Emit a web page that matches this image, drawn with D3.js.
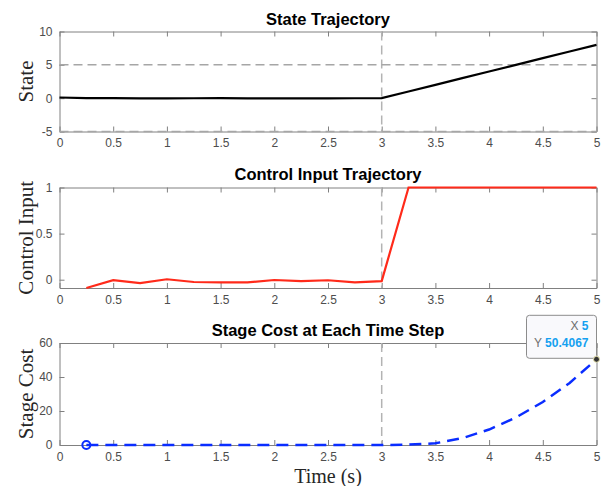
<!DOCTYPE html>
<html lang="en">
<head>
<meta charset="UTF-8">
<title>State / Control / Stage Cost</title>
<script src="https://d3js.org/d3.v7.min.js"></script>
<style>
    body { margin: 0; background: white; }
    svg { display: block; }
    .tick text { font-family: "Liberation Sans", Arial, sans-serif; font-size: 12px; fill: #4d4d4d; }
    .title { font-family: "Liberation Sans", Arial, sans-serif; font-size: 16.5px; font-weight: bold; fill: #000; }
    .ylab { font-family: "Liberation Serif", "Times New Roman", serif; font-size: 21px; fill: #262626; }
</style>
</head>
<body>
<svg width="606" height="486"></svg>
<script>
// data
const tState = [0, 0.25, 0.5, 0.75, 1, 1.25, 1.5, 1.75, 2, 2.25, 2.5, 2.75, 3, 3.25, 3.5, 3.75, 4, 4.25, 4.5, 4.75, 5];
const state  = [0.1, 0.0, 0.02, -0.03, -0.02, -0.01, 0.0, -0.03, -0.04, -0.03, -0.02, -0.01, 0.0, 1, 2, 3, 4, 5, 6, 7, 8];
const tCtrl  = [0.25, 0.5, 0.75, 1, 1.25, 1.5, 1.75, 2, 2.25, 2.5, 2.75, 3, 3.25, 3.5, 3.75, 4, 4.25, 4.5, 4.75, 5];
const control = [-0.09, -0.005, -0.036, 0.005, -0.025, -0.028, -0.03, -0.003, -0.015, -0.006, -0.028, -0.015, 1, 1, 1, 1, 1, 1, 1, 1];
const cost   = [0, 0, 0, 0, 0, 0, 0, 0, 0, 0, 0, 0, 0.2, 1.0, 4.0, 9.1, 16.2, 25.3, 36.5, 50.4067];
const xTicks = [0, 0.5, 1, 1.5, 2, 2.5, 3, 3.5, 4, 4.5, 5];
const switchTime = 3;
const stateLimits = [5, -5];

const svg = d3.select("svg");
const x = d3.scaleLinear().domain([0, 5]).range([59.5, 596.5]);
const fmt = d => String(d);

const panels = [
    { title: "State Trajectory", ylabel: "State", top: 31.5, bottom: 131.5, domain: [-5, 10], yTicks: [-5, 0, 5, 10], titleY: 25 },
    { title: "Control Input Trajectory", ylabel: "Control Input", top: 187.5, bottom: 288, domain: [-0.09, 1], yTicks: [0, 0.5, 1], titleY: 180 },
    { title: "Stage Cost at Each Time Step", ylabel: "Stage Cost", top: 343, bottom: 445, domain: [0, 60], yTicks: [0, 20, 40, 60], titleY: 336 }
];

const axisColor = "#808080";

panels.forEach(p => {
    p.y = d3.scaleLinear().domain(p.domain).range([p.bottom, p.top]);
    const g = svg.append("g");

    const styleAxis = sel => {
        sel.select(".domain").attr("stroke", axisColor);
        sel.selectAll(".tick line").attr("stroke", axisColor);
    };
    g.append("g").attr("transform", `translate(0,${p.bottom})`)
        .call(d3.axisBottom(x).tickValues(xTicks).tickFormat(fmt).tickSize(-5).tickSizeOuter(0).tickPadding(7))
        .call(styleAxis);
    g.append("g").attr("transform", `translate(0,${p.top})`)
        .call(d3.axisTop(x).tickValues(xTicks).tickFormat("").tickSize(-5).tickSizeOuter(0))
        .call(styleAxis);
    g.append("g").attr("transform", `translate(${x(0)},0)`)
        .call(d3.axisLeft(p.y).tickValues(p.yTicks).tickFormat(fmt).tickSize(-5).tickSizeOuter(0).tickPadding(7))
        .call(styleAxis);
    g.append("g").attr("transform", `translate(${x(5)},0)`)
        .call(d3.axisRight(p.y).tickValues(p.yTicks).tickFormat("").tickSize(-5).tickSizeOuter(0))
        .call(styleAxis);
    g.selectAll(".tick text").attr("fill", "#4d4d4d");

    g.append("text").attr("class", "title")
        .attr("x", (x(0) + x(5)) / 2).attr("y", p.titleY)
        .attr("text-anchor", "middle").text(p.title);
    g.append("text").attr("class", "ylab")
        .attr("transform", `translate(33,${(p.top + p.bottom) / 2}) rotate(-90)`)
        .attr("text-anchor", "middle").text(p.ylabel);

    // vertical dashed line at switch time
    g.append("line")
        .attr("x1", x(switchTime)).attr("x2", x(switchTime))
        .attr("y1", p.top).attr("y2", p.bottom)
        .attr("stroke", "#b3b3b3").attr("stroke-width", 1.5)
        .attr("stroke-dasharray", "9,5");
    p.g = g;
});

svg.append("text").attr("class", "ylab")
    .attr("x", (x(0) + x(5)) / 2).attr("y", 483)
    .style("font-size", "20px")
    .attr("text-anchor", "middle").text("Time (s)");

// state limits
const p1 = panels[0];
stateLimits.forEach(v => {
    p1.g.append("line")
        .attr("x1", x(0)).attr("x2", x(5))
        .attr("y1", p1.y(v)).attr("y2", p1.y(v))
        .attr("stroke", "#a6a6a6").attr("stroke-width", 1.5)
        .attr("stroke-dasharray", "9,5");
});

p1.g.append("path")
    .datum(tState.map((t, i) => [t, state[i]]))
    .attr("fill", "none").attr("stroke", "#000").attr("stroke-width", 2.2)
    .attr("d", d3.line().x(d => x(d[0])).y(d => p1.y(d[1])));

const p2 = panels[1];
p2.g.append("path")
    .datum(tCtrl.map((t, i) => [t, control[i]]))
    .attr("fill", "none").attr("stroke", "#ff2a1a").attr("stroke-width", 2.2)
    .attr("d", d3.line().x(d => x(d[0])).y(d => p2.y(d[1])));

const p3 = panels[2];
p3.g.append("path")
    .datum(tCtrl.map((t, i) => [t, cost[i]]))
    .attr("fill", "none").attr("stroke", "#0a2dff").attr("stroke-width", 2.5)
    .attr("stroke-dasharray", "12,7")
    .attr("d", d3.line().x(d => x(d[0])).y(d => p3.y(d[1])));
p3.g.append("circle")
    .attr("cx", x(tCtrl[0])).attr("cy", p3.y(cost[0])).attr("r", 4)
    .attr("fill", "none").attr("stroke", "#0a2dff").attr("stroke-width", 2);

// datatip on last point
const last = cost.length - 1;
const px = x(tCtrl[last]), py = p3.y(cost[last]);
const tip = svg.append("g");
tip.append("rect")
    .attr("x", px - 70).attr("y", py - 44).attr("width", 70).attr("height", 43)
    .attr("rx", 3).attr("fill", "#f9f9fc").attr("stroke", "#8c8c8c").attr("stroke-width", 1);
const tipText = (row, lab, val) => {
    const t = tip.append("text")
        .attr("x", px - 8).attr("y", py - 29 + row * 17)
        .attr("text-anchor", "end")
        .style("font-family", "'Liberation Sans', Arial, sans-serif").style("font-size", "12px");
    t.append("tspan").attr("fill", "#6e6e6e").text(lab + " ");
    t.append("tspan").attr("fill", "#14a0f0").attr("font-weight", "bold").text(val);
};
tipText(0, "X", tCtrl[last]);
tipText(1, "Y", cost[last]);
tip.append("circle").attr("cx", px).attr("cy", py).attr("r", 3)
    .attr("fill", "#333").attr("stroke", "#e8e4b0").attr("stroke-width", 1);
</script>
</body>
</html>
